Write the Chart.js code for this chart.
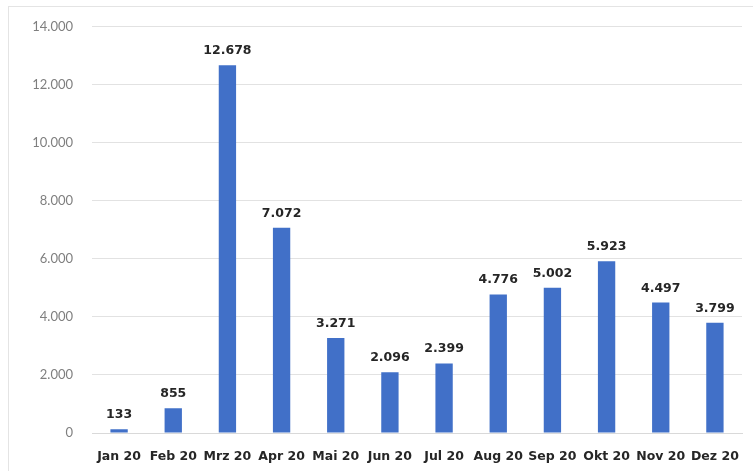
<!DOCTYPE html>
<html><head><meta charset="utf-8">
<script src="https://cdn.jsdelivr.net/npm/chart.js@4/dist/chart.umd.min.js"></script>
<style>
html,body{margin:0;padding:0;background:#fff;}
#wrap{position:relative;width:753px;height:471px;}
#frame{position:absolute;left:8px;top:6px;width:760px;height:470px;border:1px solid #e4e4e4;box-sizing:border-box;}
canvas{position:absolute;left:0;top:0;}
</style></head>
<body>
<div id="wrap"><div id="frame"></div><canvas id="c" width="753" height="471"></canvas></div>
<script>
const categories = ["Jan 20","Feb 20","Mrz 20","Apr 20","Mai 20","Jun 20","Jul 20","Aug 20","Sep 20","Okt 20","Nov 20","Dez 20"];
const values = [133,855,12678,7072,3271,2096,2399,4776,5002,5923,4497,3799];
const yTicks = [0,2000,4000,6000,8000,10000,12000,14000];

function fmt(v){ return String(v).replace(/\B(?=(\d{3})+(?!\d))/g, "."); }

const labelPlugin = {
  id:'barLabels',
  afterDatasetsDraw(chart){
    const ctx = chart.ctx;
    const meta = chart.getDatasetMeta(0);
    ctx.save();
    ctx.font = "bold 12.5px 'DejaVu Sans', sans-serif";
    ctx.fillStyle = "#262626";
    ctx.textAlign = "center";
    ctx.textBaseline = "alphabetic";
    meta.data.forEach((bar,i)=>{
      ctx.fillText(fmt(values[i]), bar.x, bar.y - 11);
    });
    ctx.restore();
  }
};

new Chart(document.getElementById('c'), {
  type:'bar',
  data:{ labels:categories, datasets:[{ data:values, backgroundColor:'#4170C8', barPercentage:0.32, categoryPercentage:1 }]},
  options:{
    responsive:false, animation:false, devicePixelRatio:1,
    layout:{ padding:{ top:25, right:11, left:0, bottom:0 } },
    plugins:{ legend:{display:false}, tooltip:{enabled:false} },
    scales:{
      x:{
        grid:{ display:false },
        border:{ display:true, color:'#d9d9d9' },
        ticks:{ color:'#262626', font:{ family:"'DejaVu Sans', sans-serif", size:12.5, weight:'bold' }, maxRotation:0, autoSkip:false, padding:8 },
        afterFit(s){ s.height = 471 - 433; }
      },
      y:{
        min:0, max:14000,
        afterBuildTicks(s){ s.ticks = yTicks.map(v=>({value:v})); },
        grid:{ color:'#e2e2e2', drawTicks:false },
        border:{ display:false },
        ticks:{ color:'#7f7f7f', padding:19, font:{ family:"Lato, 'Open Sans', sans-serif", size:13 }, callback:(v)=>fmt(v) },
        afterFit(s){ s.width = 92; }
      }
    }
  },
  plugins:[labelPlugin]
});
</script>
</body></html>
